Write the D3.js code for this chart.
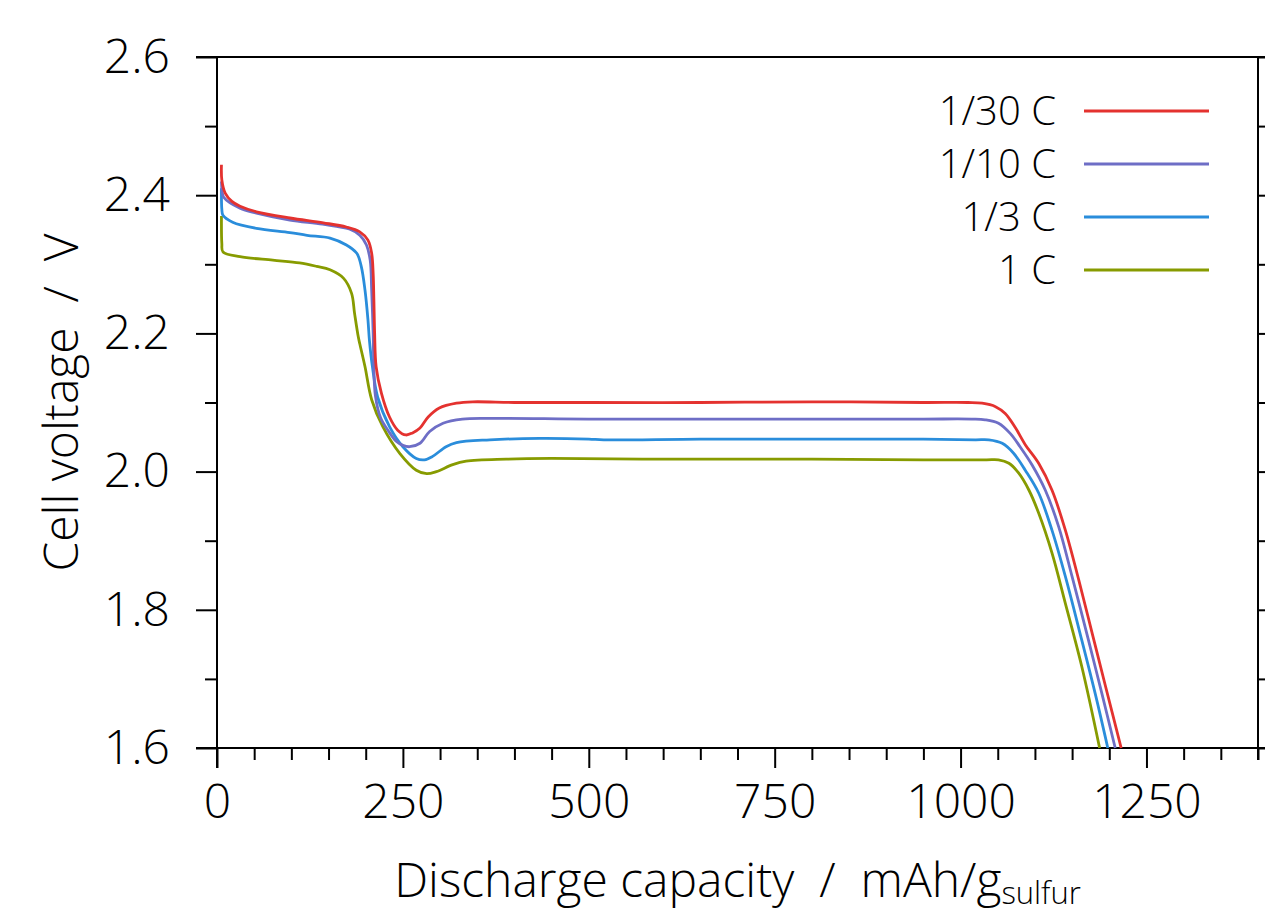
<!DOCTYPE html>
<html>
<head>
<meta charset="utf-8">
<script src="https://cdn.jsdelivr.net/npm/d3@7"></script>
<style>
  html, body { margin: 0; padding: 0; background: #fff; }
  svg { display: block; font-family: "Open Sans", "Noto Sans", sans-serif; font-weight: 300; }
  text { white-space: pre; }
</style>
</head>
<body>
<svg id="chart" width="1265" height="914"></svg>
<script>
// ---- data (x: mAh/g sulfur, y: cell voltage V) ----
const seriesNames = ["1/30 C", "1/10 C", "1/3 C", "1 C"];
const seriesColors = ["#e4322f", "#6e6ec6", "#2a8ddb", "#879b00"];

const c30x = [6, 6.5, 11, 20, 31, 53, 98, 143, 174, 192, 203, 208, 210, 211, 212, 214, 221, 232, 243, 254, 263, 273, 284, 299, 322, 344, 400, 500, 650, 800, 950, 1010, 1029, 1047, 1060, 1074, 1087, 1105, 1123, 1141, 1159, 1177, 1195, 1216];
const c30y = [2.444, 2.422, 2.403, 2.391, 2.384, 2.376, 2.367, 2.360, 2.354, 2.347, 2.335, 2.316, 2.287, 2.248, 2.200, 2.152, 2.114, 2.079, 2.060, 2.053, 2.056, 2.063, 2.079, 2.092, 2.099, 2.101, 2.100, 2.100, 2.100, 2.101, 2.100, 2.100, 2.099, 2.094, 2.084, 2.063, 2.039, 2.012, 1.973, 1.915, 1.843, 1.766, 1.689, 1.600];

const c10x = [6, 7, 9, 31, 53, 98, 142, 178, 192, 201, 206, 208, 210, 211, 213, 220, 231, 241, 250, 259, 273, 286, 304, 330, 370, 500, 650, 800, 950, 1015, 1033, 1051, 1067, 1080, 1096, 1114, 1132, 1150, 1172, 1190, 1208];
const c10y = [2.420, 2.405, 2.397, 2.381, 2.374, 2.364, 2.358, 2.351, 2.342, 2.328, 2.306, 2.263, 2.200, 2.150, 2.110, 2.078, 2.058, 2.044, 2.038, 2.036, 2.041, 2.058, 2.070, 2.076, 2.077, 2.076, 2.076, 2.076, 2.076, 2.076, 2.075, 2.070, 2.055, 2.036, 2.010, 1.973, 1.920, 1.848, 1.756, 1.679, 1.600];

const c3x = [6, 6.5, 8, 21, 53, 98, 121, 152, 174, 188, 194, 199, 203, 205, 209, 216, 232, 250, 268, 279, 290, 308, 322, 367, 434, 500, 520, 650, 800, 950, 1020, 1038, 1056, 1071, 1087, 1105, 1123, 1141, 1163, 1181, 1198];
const c3y = [2.410, 2.380, 2.371, 2.361, 2.352, 2.346, 2.342, 2.338, 2.328, 2.316, 2.297, 2.263, 2.220, 2.190, 2.152, 2.108, 2.065, 2.036, 2.019, 2.017, 2.022, 2.036, 2.042, 2.046, 2.048, 2.047, 2.046, 2.047, 2.047, 2.047, 2.046, 2.046, 2.041, 2.027, 2.002, 1.969, 1.915, 1.848, 1.756, 1.679, 1.600];

const c1x = [6, 6.5, 8, 31, 75, 111, 134, 152, 170, 181, 185, 190, 192, 199, 208, 223, 246, 268, 282, 295, 317, 335, 389, 450, 600, 800, 950, 1035, 1051, 1065, 1078, 1092, 1105, 1123, 1141, 1163, 1187];
const c1y = [2.370, 2.330, 2.318, 2.311, 2.306, 2.302, 2.297, 2.292, 2.280, 2.258, 2.229, 2.195, 2.185, 2.152, 2.104, 2.065, 2.026, 2.002, 1.997, 2.000, 2.010, 2.015, 2.018, 2.019, 2.018, 2.018, 2.017, 2.017, 2.017, 2.012, 1.998, 1.973, 1.940, 1.882, 1.809, 1.718, 1.600];

const seriesX = [c30x, c10x, c3x, c1x];
const seriesY = [c30y, c10y, c3y, c1y];

const xTickValues = [0, 250, 500, 750, 1000, 1250];
const yTickValues = [1.6, 1.8, 2.0, 2.2, 2.4, 2.6];
const xLabel = "Discharge capacity  /  mAh/g";
const xLabelSub = "sulfur";
const yLabel = "Cell voltage  /  V";

// ---- layout ----
const svg = d3.select("#chart");
const L = 217, R = 1258, T = 57, B = 748;
const x = d3.scaleLinear().domain([0, 1400]).range([L, R]);
const y = d3.scaleLinear().domain([1.6, 2.6]).range([B, T]);

const majorLen = 21, minorLen = 12, sw = 2;

// frame lines
const frame = svg.append("g").attr("stroke", "#000").attr("stroke-width", sw).attr("fill", "none");
frame.append("line").attr("x1", L - majorLen).attr("x2", 1270).attr("y1", T).attr("y2", T);
frame.append("line").attr("x1", L - majorLen).attr("x2", 1270).attr("y1", B).attr("y2", B);
frame.append("line").attr("x1", L).attr("x2", L).attr("y1", T).attr("y2", B + 20);
frame.append("line").attr("x1", R).attr("x2", R).attr("y1", T).attr("y2", B + minorLen);

// x axis ticks (bottom)
const xMinor = d3.range(0, 1401, 50).filter(v => v % 250 !== 0);
const xAxisMajor = d3.axisBottom(x).tickValues(xTickValues).tickSize(20).tickPadding(16).tickFormat(d3.format("d"));
const gx = svg.append("g").attr("transform", `translate(0,${B})`).call(xAxisMajor);
gx.select(".domain").remove();
gx.selectAll(".tick line").attr("stroke", "#000").attr("stroke-width", sw);
gx.selectAll(".tick text").attr("font-size", 48).attr("fill", "#000").attr("font-family", "Open Sans").attr("font-weight", 300);
const gxm = svg.append("g").attr("transform", `translate(0,${B})`)
  .call(d3.axisBottom(x).tickValues(xMinor).tickSize(minorLen).tickFormat(""));
gxm.select(".domain").remove();
gxm.selectAll(".tick line").attr("stroke", "#000").attr("stroke-width", sw);

// y axis ticks (left)
const yMinor = [1.7, 1.9, 2.1, 2.3, 2.5];
const gy = svg.append("g").attr("transform", `translate(${L},0)`)
  .call(d3.axisLeft(y).tickValues(yTickValues).tickSize(majorLen).tickPadding(26).tickFormat(d3.format(".1f")));
gy.select(".domain").remove();
gy.selectAll(".tick line").attr("stroke", "#000").attr("stroke-width", sw);
gy.selectAll(".tick text").attr("font-size", 48).attr("fill", "#000").attr("font-family", "Open Sans").attr("font-weight", 300);
const gym = svg.append("g").attr("transform", `translate(${L},0)`)
  .call(d3.axisLeft(y).tickValues(yMinor).tickSize(minorLen).tickFormat(""));
gym.select(".domain").remove();
gym.selectAll(".tick line").attr("stroke", "#000").attr("stroke-width", sw);

// y axis ticks (right, outward)
const gyr = svg.append("g").attr("transform", `translate(${R},0)`)
  .call(d3.axisRight(y).tickValues(yTickValues.concat(yMinor)).tickSize(majorLen).tickFormat(""));
gyr.select(".domain").remove();
gyr.selectAll(".tick line").attr("stroke", "#000").attr("stroke-width", sw);

// curves
const line = d3.line().x(d => x(d[0])).y(d => y(d[1])).curve(d3.curveCatmullRom.alpha(0.5));
const order = [3, 2, 1, 0];
order.forEach(i => {
  const pts = seriesX[i].map((v, k) => [v, seriesY[i][k]]);
  svg.append("path").datum(pts).attr("d", line)
    .attr("fill", "none").attr("stroke", seriesColors[i]).attr("stroke-width", 2.8)
    .attr("stroke-linejoin", "round").attr("stroke-linecap", "butt");
});

// legend
const legY = d3.scalePoint().domain(seriesNames).range([111, 270]);
const leg = svg.append("g");
seriesNames.forEach((n, i) => {
  leg.append("line").attr("x1", 1084).attr("x2", 1209).attr("y1", legY(n)).attr("y2", legY(n))
    .attr("stroke", seriesColors[i]).attr("stroke-width", 2.8);
  leg.append("text").attr("x", 1056).attr("y", legY(n)).attr("dy", "0.35em")
    .attr("text-anchor", "end").attr("font-size", 40).attr("fill", "#000").text(n);
});

// axis titles
const xt = svg.append("text").attr("x", (L + R) / 2).attr("y", 897).attr("text-anchor", "middle")
  .attr("font-size", 48).attr("fill", "#000");
xt.append("tspan").text(xLabel);
xt.append("tspan").attr("font-size", 31).attr("dy", 7).text(xLabelSub);

svg.append("text").attr("transform", `translate(78,${(T + B) / 2}) rotate(-90)`)
  .attr("text-anchor", "middle").attr("font-size", 48).attr("fill", "#000").text(yLabel);
</script>
</body>
</html>
